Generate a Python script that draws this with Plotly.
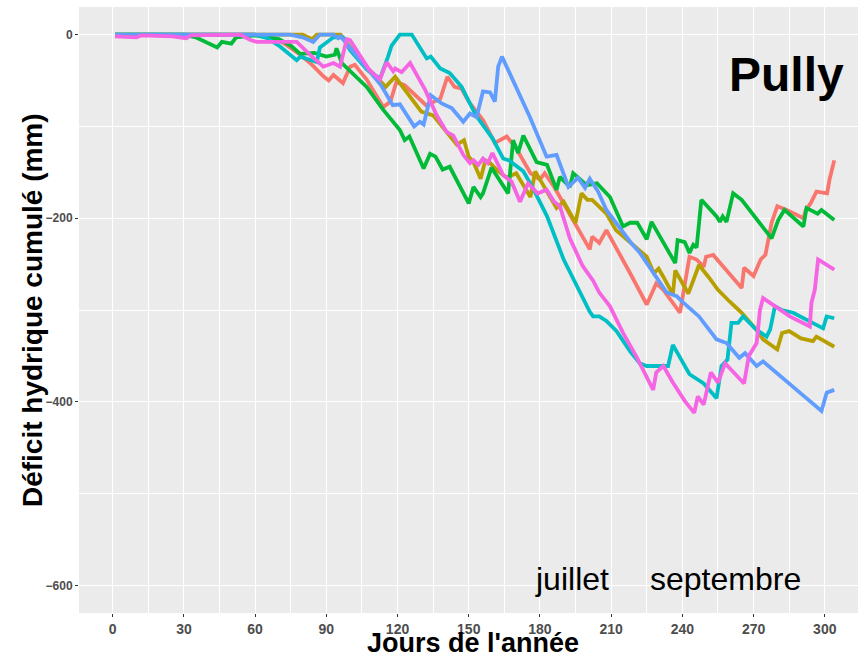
import plotly.graph_objects as go

# ---- data (day of year, cumulative water deficit in mm) ----
red_days = [1, 30, 60, 69, 73, 79, 84, 89, 91, 93, 97, 100, 102, 107, 114, 117, 119.5, 123, 132, 138, 141, 144, 147, 150, 156, 161, 166, 170, 176, 180, 182, 186, 193, 201, 202, 205, 208, 212, 218, 225, 229, 232, 239, 243, 246, 249, 250, 253, 265, 266, 270, 273, 275, 277.6, 280, 284, 291, 292, 294, 296.5, 301, 302, 304]
red_vals = [0, 0, 0, -5, -11, -22, -33, -46, -50, -44, -53, -35, -33, -49, -79, -73, -52, -55, -77, -70, -46, -57, -59, -73, -93, -118, -111, -124, -151, -158, -151, -166, -198, -234, -220, -227, -213, -231, -260, -294, -271, -278, -303, -242, -245, -253, -242, -240, -276, -254, -263, -245, -240, -205, -187, -191, -200, -191, -184, -171, -173, -158, -137]

olive_days = [1, 60, 80, 84, 86, 96, 101, 108, 111, 115, 119, 124, 130, 135, 141, 145, 148, 150, 152, 155, 157, 159, 162, 166, 170, 176, 178, 182, 187, 190, 195, 197.5, 200, 202, 208, 212, 221, 225, 228, 230, 232, 236, 237, 242.5, 244, 247, 251, 255, 260, 265, 271, 274, 280, 282, 285, 290, 295, 296.5, 304]
olive_vals = [0, 0, 0, -5, 0, 0, -17, -40, -46, -57, -46, -63, -84, -88, -108, -120, -115, -133, -139, -157, -137, -140, -148, -156, -151, -177, -149, -166, -189, -182, -205, -173, -180, -180, -195, -213, -233, -242, -260, -255, -264, -283, -257, -282, -272, -251, -264, -278, -291, -303, -321, -332, -343, -325, -323, -331, -334, -329, -340]

green_days = [1, 30, 35, 44, 46, 50, 52, 60, 70, 75, 79, 85, 90, 93.6, 94.3, 96.5, 107, 114, 121, 123, 125, 131, 133.7, 136, 139, 142, 150, 152, 155, 156, 159.6, 166.6, 168.7, 170.8, 173, 178.6, 183, 187, 188.4, 192.6, 194, 199.7, 204, 209.5, 215, 218, 221, 225, 227, 232, 237, 238, 241, 243, 244.6, 246, 248, 254.4, 255.8, 257, 258.6, 261.4, 265, 277.6, 280.4, 283, 291, 292.3, 297, 298.6, 304]
green_vals = [0, 0, -3, -14, -8, -10, -3, -1, -5, -12, -21, -20, -24, -22, -15, -31, -57, -82, -104, -115, -111, -146, -130, -133, -147, -144, -184, -166, -177, -173, -145, -173, -115, -129, -110, -139, -142, -169, -155, -166, -151, -164, -162, -177, -209, -205, -205, -223, -204, -227, -249, -224, -226, -238, -229, -232, -180, -198, -204, -198, -204, -173, -180, -222, -202, -191, -209, -189, -195, -191, -202]

cyan_days = [1, 60, 65, 70.5, 77.5, 79, 86, 87.3, 89.4, 93, 97, 100, 107, 112.6, 116, 117.5, 121, 126, 132.3, 134, 138, 142, 147, 153, 160, 164.5, 167, 173, 177, 183, 190, 197, 201, 202.4, 205, 208, 212.3, 218, 222, 225, 234, 236, 243, 249, 254.4, 256.5, 259, 260.7, 263.5, 265.6, 271, 275.5, 277, 279, 281.8, 286.7, 299.3, 300.8, 304]
cyan_vals = [0, 0, -4, -13, -28, -24, -30, -14, -10, -3, -3, -17, -38, -48, -24, -12, 0, 0, -26, -24, -37, -42, -57, -88, -113, -135, -137, -149, -167, -198, -245, -282, -302, -307, -307, -312, -323, -345, -358, -361, -361, -338, -370, -380, -396, -361, -354, -314, -314, -307, -321, -329, -321, -296, -300, -303, -320, -307, -309]

blue_days = [1, 74.7, 80, 84.5, 87.3, 93, 95, 96, 98.6, 107, 113, 118, 121, 127, 129.4, 131, 134, 138.6, 142.8, 147.7, 150.5, 153.3, 156, 159, 161, 162.4, 164, 175.8, 182.8, 187, 192, 196, 199, 201, 204.5, 208, 218.4, 222.2, 225, 233.4, 237.6, 240.4, 247, 254.4, 258.6, 264, 266.4, 271.3, 274, 282.5, 289.5, 298.6, 300.8, 304]
blue_vals = [0, 0, -3, -8, 0, 0, -4, -2, -10, -37, -55, -77, -76, -100, -95, -98, -66, -75, -80, -95, -86, -90, -62, -63, -73, -35, -24, -90, -133, -131, -166, -156, -167, -157, -171, -191, -227, -238, -249, -281, -285, -292, -307, -332, -336, -352, -347, -361, -356, -374, -390, -410, -390, -387]

pink_days = [1, 3, 6, 10, 12, 25, 31, 33, 53.6, 58, 60.6, 77.5, 84, 88.7, 93, 95.8, 98.6, 100, 108, 112.6, 115.4, 118.2, 119, 121.7, 125.3, 131.6, 136.5, 140.7, 143.5, 147.7, 150.5, 152, 154, 156, 158, 160, 164.5, 168, 171.6, 175, 179, 182.8, 186, 188.4, 192.6, 198, 202.4, 205, 209.5, 215, 220.7, 225, 227.7, 229, 232, 236, 241, 245, 246.5, 249, 252, 255, 258, 266, 268, 271.3, 272.7, 274, 281, 285.3, 293.7, 294.4, 295.8, 297.2, 304]
pink_vals = [-2, -2, -3, -3, -1, -2, -4, -1, 0, -6, -8, -8, -24, -35, -31, -35, -5, -6, -38, -49, -30, -40, -37, -41, -31, -60, -88, -106, -110, -131, -140, -137, -142, -135, -140, -129, -153, -160, -182, -162, -173, -169, -182, -187, -222, -252, -268, -281, -296, -325, -351, -374, -387, -368, -361, -379, -399, -412, -394, -403, -368, -379, -358, -380, -350, -336, -300, -287, -300, -307, -318, -292, -278, -245, -256]

series_names = ["s1", "s2", "s3", "s4", "s5", "s6"]
series_colors = ["#F8766D", "#B79F00", "#00BA38", "#00BFC4", "#619CFF", "#F564E3"]

x_ticks = [0, 30, 60, 90, 120, 150, 180, 210, 240, 270, 300]
y_ticks = [-600, -400, -200, 0]
y_ticklabels = ["\u2212600", "\u2212400", "\u2212200", "0"]

station = "Pully"
month_labels = ["juillet", "septembre"]
month_x = [193.5, 258]
month_y = [-593, -593]

x_title = "Jours de l'année"
y_title = "Déficit hydrique cumulé (mm)"

FONT = "Liberation Sans, Arial, sans-serif"

fig = go.Figure()
all_days = [red_days, olive_days, green_days, cyan_days, blue_days, pink_days]
all_vals = [red_vals, olive_vals, green_vals, cyan_vals, blue_vals, pink_vals]
for d, v, n, c in zip(all_days, all_vals, series_names, series_colors):
    fig.add_trace(go.Scatter(x=d, y=v, mode="lines", name=n,
                             line=dict(color=c, width=3.8), hoverinfo="skip"))

axis_common = dict(
    showgrid=True, gridcolor="white", gridwidth=1.3,
    zeroline=False, showline=False, automargin=False,
    ticks="outside", ticklen=3, tickwidth=1, tickcolor="#333333",
)

fig.update_xaxes(
    range=[-14.2, 314], tickmode="array", tickvals=x_ticks,
    tickfont=dict(family=FONT, size=14, color="#4D4D4D", weight="bold"),
    minor=dict(tickmode="linear", tick0=15, dtick=30, showgrid=True,
               gridcolor="white", gridwidth=0.6, ticks=""),
    **axis_common,
)
fig.update_yaxes(
    range=[-630, 30], tickmode="array", tickvals=y_ticks, ticktext=y_ticklabels,
    tickfont=dict(family=FONT, size=12, color="#4D4D4D", weight="bold"),
    minor=dict(tickmode="linear", tick0=-500, dtick=200, showgrid=True,
               gridcolor="white", gridwidth=0.6, ticks=""),
    **axis_common,
)

annotations = [
    dict(x=284, y=-44, xref="x", yref="y", text=station, showarrow=False,
         font=dict(family=FONT, size=48, color="black", weight="bold"),
         xanchor="center", yanchor="middle"),
    dict(x=0.5064, y=-0.022, xref="paper", yref="paper", text=x_title,
         showarrow=False, xanchor="center", yanchor="top",
         font=dict(family=FONT, size=27, color="black", weight="bold")),
    dict(x=-0.0603, y=0.5, xref="paper", yref="paper", text=y_title,
         showarrow=False, xanchor="center", yanchor="middle", textangle=-90,
         font=dict(family=FONT, size=28, color="black", weight="bold")),
]
for t, mx, my in zip(month_labels, month_x, month_y):
    annotations.append(dict(x=mx, y=my, xref="x", yref="y", text=t, showarrow=False,
                            xanchor="center", yanchor="middle",
                            font=dict(family=FONT, size=32, color="black")))

fig.update_layout(
    width=858, height=657,
    margin=dict(l=79, r=0, t=7, b=44, autoexpand=False),
    paper_bgcolor="white", plot_bgcolor="#EBEBEB",
    showlegend=False,
    annotations=annotations,
)

fig.write_html("out.html", config={"displayModeBar": False},
               post_script="document.body.style.margin='0px';")
